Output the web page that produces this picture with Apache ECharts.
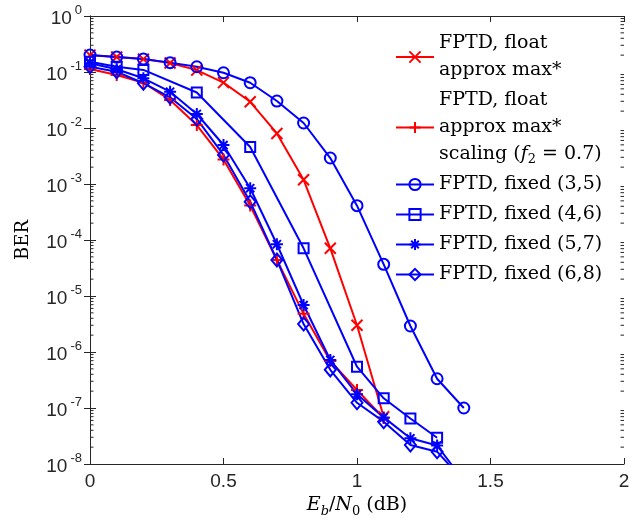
<!DOCTYPE html>
<html><head><meta charset="utf-8">
<script src="https://cdn.jsdelivr.net/npm/echarts@6/dist/echarts.min.js"></script>
<style>html,body{margin:0;padding:0;background:#fff}#c{width:640px;height:526px}</style>
</head><body><div id="c"></div>
<script>
// ---- data (Eb/N0 in dB, BER) ----
const ebn0All = [0, 0.1, 0.2, 0.3, 0.4, 0.5, 0.6, 0.7, 0.8, 0.9, 1.0, 1.1, 1.2, 1.3, 1.4];
const ebn0Float = [0, 0.1, 0.2, 0.3, 0.4, 0.5, 0.6, 0.7, 0.8, 0.9, 1.0, 1.1];
const ebn0Fixed46 = [0, 0.1, 0.2, 0.4, 0.6, 0.8, 1.0, 1.1, 1.2, 1.3];

const berFloat = [0.2, 0.185, 0.17, 0.145, 0.108, 0.0646, 0.0294, 0.008, 0.00119, 7.1e-5, 3.0e-6, 7e-8];
const berFloatScaling = [0.113, 0.0884, 0.0644, 0.0316, 0.0113, 2.74e-3, 4.13e-4, 4.4e-5, 4.8e-6, 6.9e-7, 2.1e-7, 6.6e-8];
const berFixed35 = [0.201, 0.185, 0.171, 0.147, 0.124, 0.097, 0.0644, 0.0303, 0.01228, 0.00291, 4.1e-4, 3.68e-5, 2.91e-6, 3.33e-7, 1.0e-7];
const berFixed46 = [0.153, 0.124, 0.109, 0.043, 4.58e-3, 7.1e-5, 5.46e-7, 1.49e-7, 6.5e-8, 2.95e-8];
const berFixed57 = [0.143, 0.112, 0.0772, 0.0445, 0.0178, 4.97e-3, 8.4e-4, 8.4e-5, 6.9e-6, 7.2e-7, 1.76e-7, 6.8e-8, 2.88e-8, 2.14e-8, 5e-9];
const berFixed68 = [0.124, 0.101, 0.063, 0.0353, 0.0145, 3.3e-3, 4.83e-4, 4.4e-5, 3.16e-6, 4.8e-7, 1.24e-7, 5.7e-8, 2.19e-8, 1.66e-8, 5e-9];

const seriesNames = ['FPTD, float approx max*', 'FPTD, float approx max* scaling',
  'FPTD, fixed (3,5)', 'FPTD, fixed (4,6)', 'FPTD, fixed (5,7)', 'FPTD, fixed (6,8)'];
const legendLabels = {
  'FPTD, float approx max*': 'FPTD, float\napprox max*',
  'FPTD, float approx max* scaling': 'FPTD, float\napprox max*\nscaling ({i|f}{s|2}{n| = 0.7)}',
  'FPTD, fixed (3,5)': 'FPTD, fixed (3,5)',
  'FPTD, fixed (4,6)': 'FPTD, fixed (4,6)',
  'FPTD, fixed (5,7)': 'FPTD, fixed (5,7)',
  'FPTD, fixed (6,8)': 'FPTD, fixed (6,8)'
};
const xTickMin = 0, xTickMax = 2, xTickStep = 0.5;
const yMin = 1e-8, yMax = 1;

// minor log ticks (2..9 per decade)
const minorTickValues = [];
for (let e = -8; e < 0; e++) for (let k = 2; k <= 9; k++) minorTickValues.push(k * Math.pow(10, e));

const pairs = (xs, ys) => xs.map((x, i) => [x, ys[i]]);

const RED = '#ff0000', BLUE = '#0000ff', AX = '#262626';
const SERIF = 'DejaVu Serif';
const SANS = 'Liberation Sans';
const LFS = 19;

const SYM_X = 'path://M0,0L10,10M10,0L0,10';
const SYM_PLUS = 'path://M5,0L5,10M0,5L10,5';
const SYM_STAR = 'path://M5,0L5,10M0,5L10,5M1.6,1.6L8.4,8.4M8.4,1.6L1.6,8.4';

function lineSeries(name, data, color, symbol, size) {
  return {
    name, type: 'line', data, symbol, symbolSize: size, symbolKeepAspect: true,
    showAllSymbol: true, clip: true,
    lineStyle: { color, width: 2 },
    itemStyle: { color: 'rgba(0,0,0,0)', borderColor: color, borderWidth: 2 },
    emphasis: { disabled: true }, animation: false, z: 3
  };
}

const chart = echarts.init(document.getElementById('c'), null, { renderer: 'canvas' });
const tickLabelRich = {
  b: { fontFamily: SANS, fontSize: 19, color: AX, lineHeight: 24, verticalAlign: 'bottom' },
  e: { fontFamily: SANS, fontSize: 13, color: AX, lineHeight: 18, verticalAlign: 'top', padding: [0, 0, 0, 3] }
};

chart.setOption({
  animation: false,
  backgroundColor: '#fff',
  grid: { left: 90, right: 16, top: 16, bottom: 62, containLabel: false },
  legend: {
    data: seriesNames, orient: 'vertical', left: 395, top: 30, padding: 0,
    itemWidth: 38, itemHeight: 14, itemGap: 3,
    formatter: n => legendLabels[n],
    textStyle: {
      fontFamily: SERIF, fontSize: LFS, color: '#000', lineHeight: 27,
      rich: {
        i: { fontFamily: SERIF, fontStyle: 'italic', fontSize: LFS, lineHeight: 27, color: '#000' },
        s: { fontFamily: SERIF, fontSize: 13, lineHeight: 27, color: '#000', padding: [10, 0, 0, 0] },
        n: { fontFamily: SERIF, fontSize: LFS, lineHeight: 27, color: '#000' }
      }
    },
    selectedMode: false
  },
  xAxis: [{
    type: 'value', min: xTickMin, max: xTickMax, interval: xTickStep, position: 'bottom',
    axisLine: { show: true, onZero: false, lineStyle: { color: AX, width: 1 } },
    axisTick: { show: true, inside: true, length: 6, lineStyle: { color: AX } },
    axisLabel: { color: AX, fontFamily: SANS, fontSize: 19, margin: 8 },
    splitLine: { show: false },
    name: '{i|E}{si|b}{n|/}{i|N}{s|0}{n| (dB)}', nameLocation: 'middle', nameGap: 32,
    nameTextStyle: {
      rich: {
        i: { fontFamily: SERIF, fontStyle: 'italic', fontSize: 19, color: '#000', lineHeight: 22, verticalAlign: 'top' },
        n: { fontFamily: SERIF, fontSize: 19, color: '#000', lineHeight: 22, verticalAlign: 'top' },
        s: { fontFamily: SERIF, fontSize: 13, color: '#000', lineHeight: 15, verticalAlign: 'bottom' },
        si: { fontFamily: SERIF, fontStyle: 'italic', fontSize: 13, color: '#000', lineHeight: 15, verticalAlign: 'bottom' }
      }
    }
  }, {
    type: 'value', min: xTickMin, max: xTickMax, interval: xTickStep, position: 'top',
    axisLine: { show: true, onZero: false, lineStyle: { color: AX, width: 1 } },
    axisTick: { show: true, inside: true, length: 6, lineStyle: { color: AX } },
    axisLabel: { show: false }, splitLine: { show: false }
  }],
  yAxis: [{
    type: 'log', logBase: 10, min: yMin, max: yMax, position: 'left',
    axisLine: { show: true, lineStyle: { color: AX, width: 1 } },
    axisTick: { show: true, inside: true, length: 6, lineStyle: { color: AX } },
    axisLabel: {
      margin: 8,
      formatter: v => '{b|10}{e|' + Math.round(Math.log10(v)) + '}',
      rich: tickLabelRich
    },
    splitLine: { show: false },
    name: 'BER', nameLocation: 'middle', nameGap: 58,
    nameTextStyle: { fontFamily: SERIF, fontSize: 18, color: '#000' }
  }, {
    type: 'log', logBase: 10, min: yMin, max: yMax, position: 'right',
    axisLine: { show: true, lineStyle: { color: AX, width: 1 } },
    axisTick: { show: true, inside: true, length: 6, lineStyle: { color: AX } },
    axisLabel: { show: false }, splitLine: { show: false }
  }],
  series: [
    lineSeries(seriesNames[0], pairs(ebn0Float, berFloat), RED, SYM_X, 11),
    lineSeries(seriesNames[1], pairs(ebn0Float, berFloatScaling), RED, SYM_PLUS, 12),
    lineSeries(seriesNames[2], pairs(ebn0All, berFixed35), BLUE, 'circle', 11),
    lineSeries(seriesNames[3], pairs(ebn0Fixed46, berFixed46), BLUE, 'rect', 10),
    lineSeries(seriesNames[4], pairs(ebn0All, berFixed57), BLUE, SYM_STAR, 12),
    lineSeries(seriesNames[5], pairs(ebn0All, berFixed68), BLUE, 'diamond', [11, 13]),
    {
      type: 'custom', name: 'minorTicks', silent: true, clip: false, z: 2,
      xAxisIndex: 0, yAxisIndex: 0,
      data: minorTickValues.map(v => [xTickMin, v]),
      encode: { x: 0, y: 1 },
      renderItem: (params, api) => {
        const v = api.value(1);
        const p = api.coord([xTickMin, v]);
        const q = api.coord([xTickMax, v]);
        return {
          type: 'group', children: [
            { type: 'line', shape: { x1: p[0], y1: p[1], x2: p[0] + 3.5, y2: p[1] }, style: { stroke: AX, lineWidth: 1 } },
            { type: 'line', shape: { x1: q[0] - 3.5, y1: q[1], x2: q[0], y2: q[1] }, style: { stroke: AX, lineWidth: 1 } }
          ]
        };
      }
    }
  ]
});
</script>
</body></html>
